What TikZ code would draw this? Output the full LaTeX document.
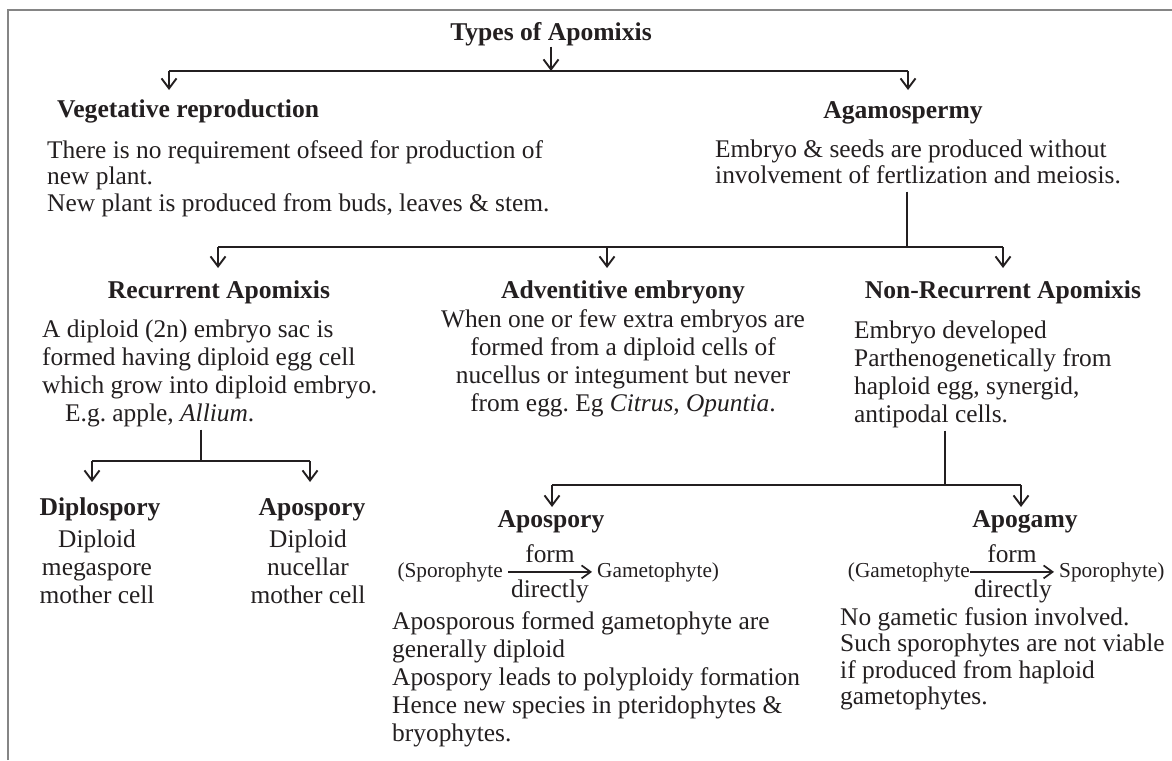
\documentclass[tikz,border=0pt]{standalone}
\usepackage{fontspec}
\setmainfont{Liberation Serif}
\usetikzlibrary{arrows.meta}
\definecolor{ink}{HTML}{231F20}
\definecolor{framegray}{HTML}{858585}
\frenchspacing
\newcommand{\colL}[1]{\begin{tabular}[t]{@{}l@{}}#1\end{tabular}}
\newcommand{\colC}[1]{\begin{tabular}[t]{@{}c@{}}#1\end{tabular}}
\tikzset{
  head/.style={font=\fontsize{25.6}{27}\selectfont\bfseries, inner sep=0pt, text=ink, anchor=base},
  body/.style={font=\fontsize{25.4}{28}\selectfont, inner sep=0pt, text=ink},
  bodytight/.style={font=\fontsize{25.4}{26.5}\selectfont, inner sep=0pt, text=ink},
  smalltxt/.style={font=\fontsize{21.3}{23}\selectfont, inner sep=0pt, text=ink},
  conn/.style={draw=ink, line width=1.9pt},
  arr/.style={conn, -{Straight Barb[length=10pt,width=15pt]}},
  eqarr/.style={draw=ink, line width=1.7pt, -{Straight Barb[length=9pt,width=13pt]}},
}
\begin{document}
\begin{tikzpicture}[x=1pt,y=-1pt]
\useasboundingbox (0,0) rectangle (1172,760);
% frame
\draw[framegray, line width=1.2pt] (8,760) -- (8,10) -- (1172,10);

% title
\node[head] (title) at (551,41) {Types of Apomixis};
\coordinate (tj) at (551,71);
\coordinate (hL) at (169,71);
\coordinate (hR) at (908,71);
\coordinate (vegin) at (169,90);
\coordinate (agin) at (908,90);
\draw[arr] (title.south) -- (tj);
\draw[conn] (hL) -- (hR);
\draw[arr] (hL) -- (vegin);
\draw[arr] (hR) -- (agin);

% level 1
\node[head, anchor=base west] (veg) at (57,117) {Vegetative reproduction};
\node[bodytight, anchor=base west] (vegtxt) at (47,158) {\colL{There is no requirement ofseed for production of\\ new plant.\\ New plant is produced from buds, leaves \& stem.}};
\node[head] (agam) at (903,118) {Agamospermy};
\node[bodytight, anchor=base west] (agamtxt) at (715,157) {\colL{Embryo \& seeds are produced without\\ involvement of fertlization and meiosis.}};

% level 2 connectors
\coordinate (j2) at (907,247);
\coordinate (r2L) at (218,247);
\coordinate (r2R) at (1003,247);
\coordinate (r2M) at (607,247);
\coordinate (recin) at (218,268);
\coordinate (advin) at (607,268);
\coordinate (nrin) at (1003,268);
\draw[conn] (agamtxt.south -| j2) -- (j2);
\draw[conn] (r2L) -- (r2R);
\draw[arr] (r2L) -- (recin);
\draw[arr] (r2M) -- (advin);
\draw[arr] (r2R) -- (nrin);

% level 2 nodes
\node[head] (rec) at (219,298) {Recurrent Apomixis};
\node[body, anchor=base west] (rectxt) at (42,337) {\colL{A diploid (2n) embryo sac is\\ formed having diploid egg cell\\ which grow into diploid embryo.\\ \hspace*{23pt}E.g. apple, \textit{Allium}.}};
\node[head] (adv) at (623,298) {Adventitive embryony};
\node[body, anchor=base] (advtxt) at (623,327) {\colC{When one or few extra embryos are\\ formed from a diploid cells of\\ nucellus or integument but never\\ from egg. Eg \textit{Citrus}, \textit{Opuntia}.}};
\node[head] (nr) at (1003,298) {Non-Recurrent Apomixis};
\node[body, anchor=base west] (nrtxt) at (854,338) {\colL{Embryo developed\\ Parthenogenetically from\\ haploid egg, synergid,\\ antipodal cells.}};

% recurrent branch
\coordinate (j3) at (201,461);
\coordinate (r3L) at (92,461);
\coordinate (r3R) at (310,461);
\coordinate (dipin) at (92,482);
\coordinate (apo1in) at (310,482);
\draw[conn] (rectxt.south -| j3) -- (j3);
\draw[conn] (r3L) -- (r3R);
\draw[arr] (r3L) -- (dipin);
\draw[arr] (r3R) -- (apo1in);

\node[head] (dip) at (100,515) {Diplospory};
\node[body, anchor=base] (diptxt) at (97,547) {\colC{Diploid\\ megaspore\\ mother cell}};
\node[head] (apo1) at (312,515) {Apospory};
\node[body, anchor=base] (apo1txt) at (308,547) {\colC{Diploid\\ nucellar\\ mother cell}};

% non-recurrent branch
\coordinate (j4) at (945,485);
\coordinate (r4L) at (552,485);
\coordinate (r4R) at (1021,485);
\coordinate (apo2in) at (552,507);
\coordinate (apogin) at (1021,507);
\draw[conn] (nrtxt.south -| j4) -- (j4);
\draw[conn] (r4L) -- (r4R);
\draw[arr] (r4L) -- (apo2in);
\draw[arr] (r4R) -- (apogin);

\node[head] (apo2) at (551,527) {Apospory};
\node[head] (apog) at (1025,527) {Apogamy};

% apospory equation
\node[smalltxt, anchor=base east] (sp1) at (503,577) {(Sporophyte};
\node[smalltxt, anchor=base west] (ga1) at (597,577) {Gametophyte)};
\draw[eqarr, shorten <=5pt, shorten >=5pt] (sp1.east) -- (ga1.west);
\node[body, anchor=base] (form1) at (550,562) {form};
\node[body, anchor=base] (dir1) at (550,597) {directly};

% apogamy equation
\node[smalltxt, anchor=base east] (ga2) at (970,577) {(Gametophyte};
\node[smalltxt, anchor=base west] (sp2) at (1059,577) {Sporophyte)};
\draw[eqarr, shorten >=5pt] (ga2.east) -- (sp2.west);
\node[body, anchor=base] (form2) at (1012,562) {form};
\node[body, anchor=base] (dir2) at (1013,597) {directly};

% bottom texts
\node[body, anchor=base west] (apo2txt) at (392,629) {\colL{Aposporous formed gametophyte are\\ generally diploid\\ Apospory leads to polyploidy formation\\ Hence new species in pteridophytes \&\\ bryophytes.}};
\node[bodytight, anchor=base west] (apogtxt) at (840,625) {\colL{No gametic fusion involved.\\ Such sporophytes are not viable\\ if produced from haploid\\ gametophytes.}};
\end{tikzpicture}
\end{document}
